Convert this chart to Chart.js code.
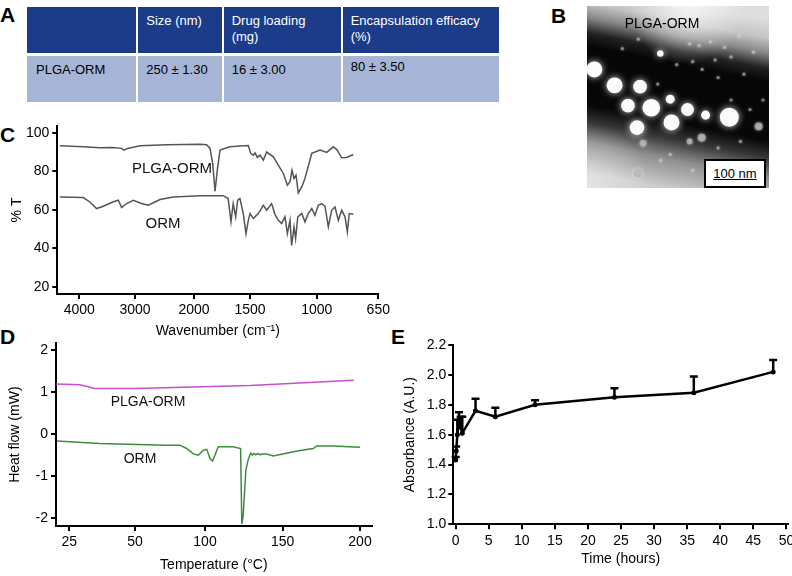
<!DOCTYPE html>
<html>
<head>
<meta charset="utf-8">
<script src="https://cdn.jsdelivr.net/npm/chart.js@4.4.1/dist/chart.umd.min.js"></script>
<style>
  body { margin: 0; width: 792px; height: 576px; position: relative; background: #fff; overflow: hidden;
         font-family: 'Liberation Sans', Arial, sans-serif; }
  canvas { position: absolute; }
  .lbl { position: absolute; color: #111; white-space: nowrap; transform: translate(-50%, -50%); }
  .panel { position: absolute; font-weight: bold; font-size: 21px; line-height: 1; color: #000; }
  .cell { position: absolute; box-sizing: border-box; font-size: 13px; line-height: 16px; }
  .hd { background: #1c3c8a; color: #fff; }
  .rw { background: #a6b5d6; color: #000; }
  .bar { position: absolute; left: 704px; top: 159px; width: 62px; height: 29px; box-sizing: border-box;
         border: 2px solid #000; background: #fff; font-size: 13px; text-align: center; line-height: 25px; }
</style>
</head>
<body>

<div class="panel" style="left:0;top:4px">A</div>
<div class="panel" style="left:551px;top:5px">B</div>
<div class="panel" style="left:0;top:124px">C</div>
<div class="panel" style="left:0;top:326px">D</div>
<div class="panel" style="left:391px;top:326px">E</div>

<div id="tableA"></div>

<canvas id="chartB" width="190" height="190" style="left:583px;top:2px"></canvas>
<div class="lbl" style="left:662px;top:23px;font-size:14px;color:#000">PLGA-ORM</div>
<div class="bar"><u>100 nm</u></div>

<canvas id="chartC" width="395" height="222" style="left:0;top:120px"></canvas>
<div class="lbl" style="left:172px;top:167px;font-size:15px">PLGA-ORM</div>
<div class="lbl" style="left:163px;top:222px;font-size:15px">ORM</div>

<canvas id="chartD" width="395" height="241" style="left:0;top:335px"></canvas>
<div class="lbl" style="left:148px;top:401px;font-size:14px">PLGA-ORM</div>
<div class="lbl" style="left:140px;top:458px;font-size:14px">ORM</div>

<canvas id="chartE" width="402" height="241" style="left:390px;top:335px"></canvas>

<script>
// ---- A: table ----
const tableCols = ['', 'Size (nm)', 'Drug loading<br>(mg)', 'Encapsulation efficacy<br>(%)'];
const tableRow = ['PLGA-ORM', '250 ± 1.30', '16 ± 3.00', '80 ± 3.50'];

// ---- B: TEM particles (nm in a 422 nm field, y from top) ----
const particleX = [17, 64, 123, 95, 149, 193, 233, 196, 116, 275, 330, 170];
const particleY = [147, 184, 187, 231, 236, 216, 240, 270, 282, 253, 258, 110];
const particleD = [37, 37, 32, 32, 41, 21, 30, 37, 34, 21, 44, 15];
const dimX = [398, 266, 238, 130, 118];
const dimY = [279, 305, 314, 318, 388];
const dimD = [18, 18, 13, 15, 22];
const speckX = [238, 260, 286, 319, 353, 334, 245, 297, 267, 386, 208, 364, 304, 164, 334, 304, 356, 193, 171, 245, 82, 119, 53, 378, 408];
const speckY = [88, 92, 83, 96, 70, 118, 129, 125, 147, 107, 136, 158, 166, 181, 218, 329, 314, 344, 358, 381, 99, 77, 388, 240, 218];

// ---- C: FTIR ----
const ftirWnPlga = [4350, 3930, 3630, 3400, 3240, 3200, 3150, 2915, 2460, 1945, 1887, 1857, 1833, 1812, 1792, 1768, 1680, 1590, 1515, 1495, 1475, 1462, 1445, 1425, 1400, 1375, 1325, 1288, 1250, 1220, 1200, 1185, 1170, 1155, 1138, 1112, 1088, 1037, 981, 943, 906, 886, 858, 830, 792];
const ftirTPlga = [93.2, 92.7, 92.2, 92.4, 91.9, 91.0, 91.7, 93.2, 93.8, 94.0, 93.8, 91.9, 84, 69.7, 80.6, 91, 92.7, 93.1, 93.4, 89.3, 88.4, 89.6, 87.2, 88.4, 85.8, 90, 87.5, 83.2, 78.9, 72.8, 74.6, 80.6, 76.3, 78, 68.8, 71.9, 76.3, 89.3, 91, 89.8, 92.7, 91.3, 87, 87.2, 88.7];
const ftirWnOrm = [4350, 3930, 3810, 3690, 3570, 3400, 3300, 3240, 3150, 3030, 2890, 2775, 2575, 2350, 1945, 1740, 1695, 1670, 1650, 1628, 1610, 1590, 1560, 1536, 1515, 1500, 1475, 1438, 1400, 1375, 1338, 1313, 1288, 1263, 1238, 1220, 1200, 1188, 1170, 1158, 1142, 1112, 1088, 1063, 1037, 1013, 991, 972, 953, 934, 915, 896, 877, 858, 839, 826, 815, 792];
const ftirTOrm = [66.7, 66.4, 64.1, 60.7, 61.9, 64.1, 65, 61.2, 63.3, 65, 63.3, 62.4, 65.4, 66.7, 67.4, 67.4, 65.9, 53.8, 63.3, 56.4, 65, 65.9, 58.1, 47.7, 54.6, 58.1, 55.5, 58.1, 62.4, 59.8, 63.3, 57.7, 54.6, 52.9, 56.4, 47.7, 54.6, 41.6, 51.2, 45.1, 56.4, 58.1, 53.8, 58.1, 60.7, 57.2, 62.4, 63.3, 61.9, 51.2, 59.8, 61.5, 54.6, 59.8, 56.4, 48.6, 58.1, 57.7];
const cTicksX = [4000, 3000, 2000, 1500, 1000, 650];
const cTicksY = [20, 40, 60, 80, 100];
const cBreaks = [0, 55.7, 114.7, 170.7, 237.4, 299];   // axis is not linear: spacing between the ticks

// ---- D: DSC ----
const dscTempPlga = [20, 29, 33, 34.5, 50, 84.5, 129, 161, 196];
const dscFlowPlga = [1.20, 1.18, 1.12, 1.09, 1.09, 1.12, 1.16, 1.22, 1.29];
const dscTempOrm = [20.3, 36.6, 72.6, 82.1, 86.9, 91.7, 95.2, 98.8, 101.1, 103.2, 104.9, 106.4, 108.5, 118.1, 122.9, 123.7, 124.5, 126.3, 127.7, 128.8, 129.5, 130.5, 131.5, 132.5, 134, 135.5, 137, 139.7, 144, 146.1, 161.2, 169.8, 171.9, 182.7, 200];
const dscFlowOrm = [-0.16, -0.22, -0.26, -0.26, -0.34, -0.47, -0.50, -0.38, -0.36, -0.58, -0.64, -0.5, -0.30, -0.30, -0.34, -2.14, -1.98, -0.86, -0.62, -0.5, -0.45, -0.50, -0.46, -0.49, -0.46, -0.49, -0.47, -0.47, -0.52, -0.50, -0.39, -0.34, -0.28, -0.28, -0.31];
const dTicksX = [25, 50, 100, 150, 200];
const dTicksY = [-2, -1, 0, 1, 2];
const dBreaks = [0, 65.7, 135.7, 213.4, 290.7];

// ---- E: absorbance over time ----
const releaseTime = [0, 0.08, 0.25, 0.5, 0.75, 1, 3, 6, 12, 24, 36, 48];
const releaseAbs = [1.43, 1.49, 1.60, 1.70, 1.65, 1.61, 1.76, 1.72, 1.80, 1.85, 1.88, 2.02];
const releaseErr = [0.02, 0.03, 0.10, 0.05, 0.07, 0.11, 0.08, 0.06, 0.03, 0.06, 0.11, 0.08];
const eTicksX = [0, 5, 10, 15, 20, 25, 30, 35, 40, 45, 50];
const eTicksY = [1.0, 1.2, 1.4, 1.6, 1.8, 2.0, 2.2];

// table
const colEdges = [[27, 136.3], [138.3, 221.7], [223.7, 340.7], [342.7, 499]];
let html = '';
tableCols.forEach((t, i) => {
  const [l, r] = colEdges[i];
  html += `<div class="cell hd" style="left:${l}px;top:7px;width:${r - l}px;height:46px;padding:6px 0 0 8px">${t}</div>`;
  html += `<div class="cell rw" style="left:${l}px;top:56px;width:${r - l}px;height:46px;padding:${i === 3 ? 3 : 6}px 0 0 ${i === 0 ? 9 : 8}px">${tableRow[i]}</div>`;
});
document.getElementById('tableA').innerHTML = html;

Chart.defaults.font.family = "'Liberation Sans', Arial, sans-serif";
Chart.defaults.font.size = 14;
Chart.defaults.color = '#000';
Chart.defaults.animation = false;
Chart.defaults.plugins.legend.display = false;
Chart.defaults.plugins.tooltip.enabled = false;

// piecewise interpolation, also extrapolates past the ends
function interp(x, xs, ys) {
  const asc = xs[xs.length - 1] > xs[0];
  let i = 1;
  while (i < xs.length - 1 && (asc ? x > xs[i] : x < xs[i])) i++;
  const t = (x - xs[i - 1]) / (xs[i] - xs[i - 1]);
  return ys[i - 1] + t * (ys[i] - ys[i - 1]);
}
const cPos = w => interp(w, cTicksX, cBreaks);
const dPos = t => interp(t, dTicksX, dBreaks);

function fixSize(size, horiz) {
  return s => {
    if (horiz) s.height = size; else s.width = size;
    s.paddingLeft = s.paddingRight = s.paddingTop = s.paddingBottom = 0;
  };
}
function setTicks(vals, fn) {
  return s => { s.ticks = vals.map(v => ({ value: fn ? fn(v) : v })); };
}
function axis(o) {
  return Object.assign({
    type: 'linear',
    border: { display: true, color: '#000', width: 2 },
    grid: { drawOnChartArea: false, drawTicks: true, tickLength: 5, color: '#000', lineWidth: 2 },
    ticks: { color: '#000', padding: 3, autoSkip: false, maxRotation: 0 },
  }, o);
}
const pairs = (xs, ys, fx) => xs.map((v, i) => ({ x: fx ? fx(v) : v, y: ys[i] }));

// ---- B ----
const temBackground = {
  id: 'temBackground',
  beforeDatasetsDraw(chart) {
    const { ctx, chartArea: { left, top, width, height } } = chart;
    const g = ctx.createLinearGradient(left + width * 0.62, top, left + width * 0.42, top + height);
    g.addColorStop(0, '#dedede');
    g.addColorStop(0.1, '#c4c4c4');
    g.addColorStop(0.18, '#858585');
    g.addColorStop(0.26, '#222222');
    g.addColorStop(0.33, '#060606');
    g.addColorStop(0.64, '#070707');
    g.addColorStop(0.73, '#353535');
    g.addColorStop(0.84, '#8e8e8e');
    g.addColorStop(1, '#cdcdcd');
    ctx.save();
    ctx.fillStyle = g;
    ctx.fillRect(left, top, width, height);
    const r = ctx.createRadialGradient(left + width * 0.55, top, 0, left + width * 0.55, top, width * 0.32);
    r.addColorStop(0, 'rgba(255,255,255,0.75)');
    r.addColorStop(1, 'rgba(255,255,255,0)');
    ctx.fillStyle = r;
    ctx.fillRect(left, top, width, height);
    const r2 = ctx.createRadialGradient(left, top + height, 0, left, top + height, width * 0.35);
    r2.addColorStop(0, 'rgba(255,255,255,0.45)');
    r2.addColorStop(1, 'rgba(255,255,255,0)');
    ctx.fillStyle = r2;
    ctx.fillRect(left, top, width, height);
    ctx.restore();
  }
};
const glow = {
  id: 'glow',
  beforeDatasetDraw(chart, args) {
    const c = chart.ctx;
    c.save();
    c.shadowColor = 'rgba(255,255,255,0.85)';
    c.shadowBlur = args.index === 2 ? 7 : 3;
  },
  afterDatasetDraw(chart) { chart.ctx.restore(); }
};
const nmRadius = diam => ctx => {
  const s = ctx.chart.scales.x;
  return Math.abs(s.getPixelForValue(diam[ctx.dataIndex] / 2) - s.getPixelForValue(0));
};
new Chart(document.getElementById('chartB'), {
  type: 'scatter',
  data: {
    datasets: [
      { data: pairs(speckX, speckY), pointRadius: 1.6, backgroundColor: 'rgba(215,215,215,0.5)', borderWidth: 0 },
      { data: pairs(dimX, dimY), pointRadius: nmRadius(dimD), backgroundColor: 'rgba(175,175,175,0.8)', borderWidth: 0 },
      { data: pairs(particleX, particleY), pointRadius: nmRadius(particleD), backgroundColor: '#fbfbfb', borderWidth: 0 },
    ]
  },
  options: {
    responsive: false,
    layout: { padding: 0 },
    scales: {
      x: { type: 'linear', display: false, min: 0, max: 422 },
      y: { type: 'linear', display: false, min: 0, max: 422, reverse: true },
    },
  },
  plugins: [temBackground, glow]
});

// ---- C ----
new Chart(document.getElementById('chartC'), {
  type: 'line',
  data: {
    datasets: [
      { data: pairs(ftirWnPlga, ftirTPlga, cPos), borderColor: '#555', borderWidth: 1.5, pointRadius: 0, tension: 0 },
      { data: pairs(ftirWnOrm, ftirTOrm, cPos), borderColor: '#555', borderWidth: 1.5, pointRadius: 0, tension: 0 },
    ]
  },
  options: {
    responsive: false,
    layout: { padding: { left: 0, top: 6, right: 16.7, bottom: 2 } },
    scales: {
      x: axis({
        min: -22, max: 299,
        afterBuildTicks: setTicks(cTicksX, cPos),
        afterFit: fixSize(46, true),
        ticks: { color: '#000', padding: 3, autoSkip: false, maxRotation: 0, callback: (v, i) => cTicksX[i] },
        title: { display: true, text: 'Wavenumber (cm⁻¹)', color: '#000', font: { size: 14 }, padding: 0 },
      }),
      y: axis({
        min: 16.4, max: 103.5,
        afterBuildTicks: setTicks(cTicksY),
        afterFit: fixSize(57.3, false),
        title: { display: true, text: '% T', color: '#000', font: { size: 14 }, padding: { top: 9, bottom: 0 } },
      }),
    },
  }
});

// ---- D ----
new Chart(document.getElementById('chartD'), {
  type: 'line',
  data: {
    datasets: [
      { data: pairs(dscTempPlga, dscFlowPlga, dPos), borderColor: '#c54fcf', borderWidth: 1.5, pointRadius: 0, tension: 0 },
      { data: pairs(dscTempOrm, dscFlowOrm, dPos), borderColor: '#3d8c3d', borderWidth: 1.5, pointRadius: 0, tension: 0 },
    ]
  },
  options: {
    responsive: false,
    layout: { padding: { left: 0, top: 8.3, right: 23.3, bottom: 2 } },
    scales: {
      x: axis({
        min: -13.3, max: 302.4,
        afterBuildTicks: setTicks(dTicksX, dPos),
        afterFit: fixSize(48, true),
        ticks: { color: '#000', padding: 3, autoSkip: false, maxRotation: 0, callback: (v, i) => dTicksX[i] },
        title: { display: true, text: 'Temperature (°C)', color: '#000', font: { size: 14 }, padding: 0 },
      }),
      y: axis({
        min: -2.19, max: 2.17,
        afterBuildTicks: setTicks(dTicksY),
        afterFit: fixSize(56, false),
        title: { display: true, text: 'Heat flow (mW)', color: '#000', font: { size: 14 }, padding: { top: 7, bottom: 0 } },
      }),
    },
  }
});

// ---- E ----
const errorBars = {
  id: 'errorBars',
  afterDatasetsDraw(chart) {
    const { ctx, scales: { x, y } } = chart;
    ctx.save();
    ctx.strokeStyle = '#000';
    ctx.lineWidth = 2.5;
    releaseTime.forEach((t, i) => {
      const px = x.getPixelForValue(t);
      const y0 = y.getPixelForValue(releaseAbs[i]);
      const y1 = y.getPixelForValue(releaseAbs[i] + releaseErr[i]);
      ctx.beginPath();
      ctx.moveTo(px, y0);
      ctx.lineTo(px, y1);
      ctx.moveTo(px - 4, y1);
      ctx.lineTo(px + 4, y1);
      ctx.stroke();
    });
    ctx.restore();
  }
};
new Chart(document.getElementById('chartE'), {
  type: 'line',
  data: {
    datasets: [
      { data: pairs(releaseTime, releaseAbs), borderColor: '#000', borderWidth: 2.5, pointRadius: 2.5,
        pointBackgroundColor: '#000', pointBorderWidth: 0, tension: 0 },
    ]
  },
  options: {
    responsive: false,
    layout: { padding: { left: 0, top: 10, right: 3.7, bottom: 2 } },
    scales: {
      x: axis({
        min: -0.36, max: 50.24,
        afterBuildTicks: setTicks(eTicksX),
        afterFit: fixSize(49.7, true),
        title: { display: true, text: 'Time (hours)', color: '#000', font: { size: 14 }, padding: { top: 0, bottom: 6 } },
      }),
      y: axis({
        min: 1.0, max: 2.2,
        afterBuildTicks: setTicks(eTicksY),
        afterFit: fixSize(63.3, false),
        ticks: { color: '#000', padding: 2, autoSkip: false, callback: v => v.toFixed(1) },
        title: { display: true, text: 'Absorbance (A.U.)', color: '#000', font: { size: 14 }, padding: { top: 12, bottom: 0 } },
      }),
    },
  },
  plugins: [errorBars]
});
</script>
</body>
</html>
